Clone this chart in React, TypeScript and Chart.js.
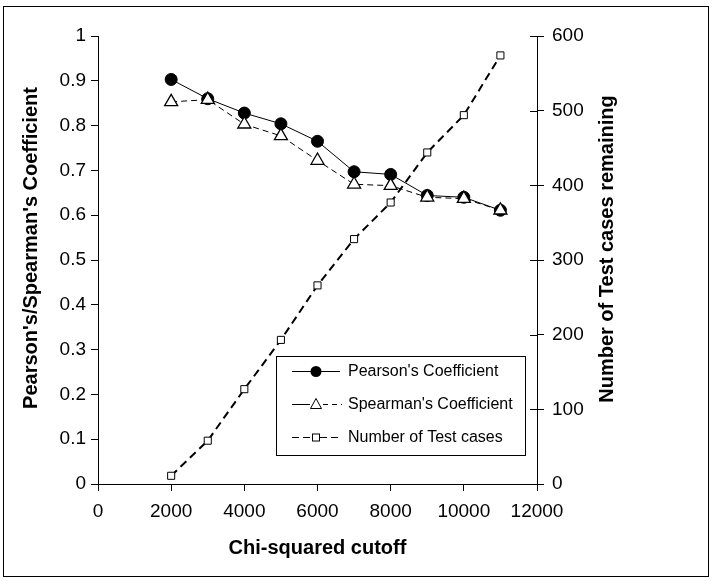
import React, { useEffect, useRef } from 'react';
import { Chart, registerables } from 'chart.js';

Chart.register(...registerables);

const cutoffs = [2000, 3000, 4000, 5000, 6000, 7000, 8000, 9000, 10000, 11000];
const pearson = [0.903, 0.86, 0.828, 0.804, 0.765, 0.697, 0.691, 0.644, 0.64, 0.611];
const spearman = [0.853, 0.858, 0.803, 0.777, 0.722, 0.669, 0.666, 0.64, 0.637, 0.611];
const testCases = [11, 58, 127, 193, 266, 328, 377, 444, 494, 574];

const xTitle = 'Chi-squared cutoff';
const yTitle = "Pearson's/Spearman's Coefficient";
const y1Title = 'Number of Test cases remaining';
const seriesLabels = ["Pearson's Coefficient", "Spearman's Coefficient", 'Number of Test cases'];

const FONT = "'Liberation Sans', Arial, Helvetica, sans-serif";

const decorPlugin = {
  id: 'decor',
  afterDraw(chart: any) {
    const ctx = chart.ctx as CanvasRenderingContext2D;
    const y1 = chart.scales.y1;
    const y = chart.scales.y;
    ctx.save();
    // outer frame
    ctx.strokeStyle = '#000';
    ctx.lineWidth = 1;
    ctx.strokeRect(3.5, 6.5, 705, 570);
    // inward ticks on right axis
    ctx.beginPath();
    y1.ticks.forEach((t: any) => {
      const py = Math.round(y1.getPixelForValue(t.value)) + 0.5;
      ctx.moveTo(y1.left - 7, py);
      ctx.lineTo(y1.left, py);
    });
    ctx.stroke();
    // vertical axis titles (read bottom to top)
    const drawVTitle = (text: string, cx: number, cy: number) => {
      ctx.save();
      ctx.translate(cx, cy);
      ctx.rotate(-Math.PI / 2);
      ctx.font = `bold 20px ${FONT}`;
      ctx.fillStyle = '#000';
      ctx.textAlign = 'center';
      ctx.textBaseline = 'middle';
      ctx.fillText(text, 0, 0);
      ctx.restore();
    };
    drawVTitle(y.options.title.text, 31, 248);
    drawVTitle(y1.options.title.text, 607, 249);

    // legend
    const bx = 276.5, by = 356.5, bw = 249, bh = 99;
    ctx.fillStyle = '#fff';
    ctx.fillRect(bx, by, bw, bh);
    ctx.strokeStyle = '#000';
    ctx.lineWidth = 1;
    ctx.strokeRect(bx, by, bw, bh);
    const rows = [371, 404, 437];
    const x0 = 292, xm = 316, x1 = 340;
    chart.data.datasets.forEach((ds: any, i: number) => {
      const yy = rows[i] + 0.5;
      ctx.strokeStyle = '#000';
      ctx.lineWidth = 1;
      if (i === 0) {
        ctx.setLineDash([]);
        ctx.beginPath(); ctx.moveTo(x0, yy); ctx.lineTo(x1, yy); ctx.stroke();
        ctx.fillStyle = '#000';
        ctx.beginPath(); ctx.arc(xm, yy, 5.5, 0, Math.PI * 2); ctx.fill();
      } else if (i === 1) {
        ctx.setLineDash([]);
        ctx.beginPath(); ctx.moveTo(x0, yy); ctx.lineTo(xm - 6, yy); ctx.stroke();
        ctx.setLineDash([5, 4]);
        ctx.beginPath(); ctx.moveTo(xm + 7, yy); ctx.lineTo(x1 + 2, yy); ctx.stroke();
        ctx.setLineDash([]);
        ctx.fillStyle = '#fff';
        ctx.beginPath();
        ctx.moveTo(xm, yy - 6); ctx.lineTo(xm + 5.5, yy + 4); ctx.lineTo(xm - 5.5, yy + 4); ctx.closePath();
        ctx.fill(); ctx.stroke();
      } else {
        ctx.setLineDash([7, 4]);
        ctx.beginPath(); ctx.moveTo(x0, yy); ctx.lineTo(xm - 4, yy); ctx.stroke();
        ctx.beginPath(); ctx.moveTo(xm + 4, yy); ctx.lineTo(x1 + 2, yy); ctx.stroke();
        ctx.setLineDash([]);
        ctx.fillStyle = '#fff';
        ctx.fillRect(xm - 3.5, yy - 3.5, 7, 7);
        ctx.strokeRect(xm - 3.5, yy - 3.5, 7, 7);
      }
      ctx.fillStyle = '#000';
      ctx.font = `16px ${FONT}`;
      ctx.textAlign = 'left';
      ctx.textBaseline = 'middle';
      ctx.fillText(ds.label, 348, yy);
    });
    ctx.restore();
  },
};

const fmt = (v: any) => String(Math.round(Number(v) * 10) / 10);

export default function App() {
  const ref = useRef<HTMLCanvasElement>(null);
  useEffect(() => {
    if (!ref.current) return;
    const tickFont = { family: FONT, size: 19 };
    const titleFont = { family: FONT, size: 20, weight: 'bold' as const };
    const chart = new Chart(ref.current, {
      type: 'line',
      data: {
        datasets: [
          {
            label: seriesLabels[0],
            data: cutoffs.map((c, i) => ({ x: c, y: pearson[i] })),
            yAxisID: 'y',
            borderColor: '#000',
            borderWidth: 1,
            pointStyle: 'circle',
            pointRadius: 6,
            pointBackgroundColor: '#000',
            pointBorderColor: '#000',
            pointBorderWidth: 1,
            tension: 0,
            order: 3,
          },
          {
            label: seriesLabels[1],
            data: cutoffs.map((c, i) => ({ x: c, y: spearman[i] })),
            yAxisID: 'y',
            borderColor: '#000',
            borderWidth: 1,
            borderDash: [6, 4],
            pointStyle: 'triangle',
            pointRadius: 7.5,
            pointBackgroundColor: '#fff',
            pointBorderColor: '#000',
            pointBorderWidth: 1.3,
            tension: 0,
            order: 2,
          },
          {
            label: seriesLabels[2],
            data: cutoffs.map((c, i) => ({ x: c, y: testCases[i] })),
            yAxisID: 'y1',
            borderColor: '#000',
            borderWidth: 2,
            borderDash: [8, 5],
            pointStyle: 'rect',
            pointRadius: 5,
            pointBackgroundColor: '#fff',
            pointBorderColor: '#000',
            pointBorderWidth: 1,
            tension: 0,
            order: 1,
          },
        ],
      },
      options: {
        responsive: false,
        animation: false,
        layout: { padding: { top: 36, left: 0, right: 0, bottom: 0 } },
        plugins: { legend: { display: false }, tooltip: { enabled: false } },
        elements: { line: { fill: false } },
        scales: {
          x: {
            type: 'linear',
            min: 0,
            max: 12000,
            ticks: { stepSize: 2000, font: tickFont, color: '#000', padding: 9, maxRotation: 0, callback: (v: any) => fmt(v) },
            grid: { drawOnChartArea: false, drawTicks: true, tickLength: 7, color: '#000' },
            border: { display: true, color: '#000', width: 1 },
            title: { display: true, text: xTitle, font: titleFont, color: '#000', padding: { top: 0, bottom: 21 } },
            afterFit: (s: any) => { s.height = 97; },
          },
          y: {
            type: 'linear',
            position: 'left',
            min: 0,
            max: 1,
            ticks: { stepSize: 0.1, font: tickFont, color: '#000', padding: 5, callback: (v: any) => fmt(v) },
            grid: { drawOnChartArea: false, drawTicks: true, tickLength: 7, color: '#000' },
            border: { display: true, color: '#000', width: 1 },
            title: { display: false, text: yTitle, font: titleFont, color: '#000' },
            afterFit: (s: any) => { s.width = 98; },
          },
          y1: {
            type: 'linear',
            position: 'right',
            min: 0,
            max: 600,
            ticks: { stepSize: 100, font: tickFont, color: '#000', padding: 8, callback: (v: any) => fmt(v) },
            grid: { drawOnChartArea: false, drawTicks: true, tickLength: 7, color: '#000' },
            border: { display: true, color: '#000', width: 1 },
            title: { display: false, text: y1Title, font: titleFont, color: '#000' },
            afterFit: (s: any) => { s.width = 176; },
          },
        },
      },
      plugins: [decorPlugin],
    });
    return () => chart.destroy();
  }, []);
  return (
    <div style={{ position: 'absolute', left: 0, top: 0, width: 713, height: 581, background: '#fff' }}>
      <canvas ref={ref} width={713} height={581} style={{ display: 'block' }} />
    </div>
  );
}
